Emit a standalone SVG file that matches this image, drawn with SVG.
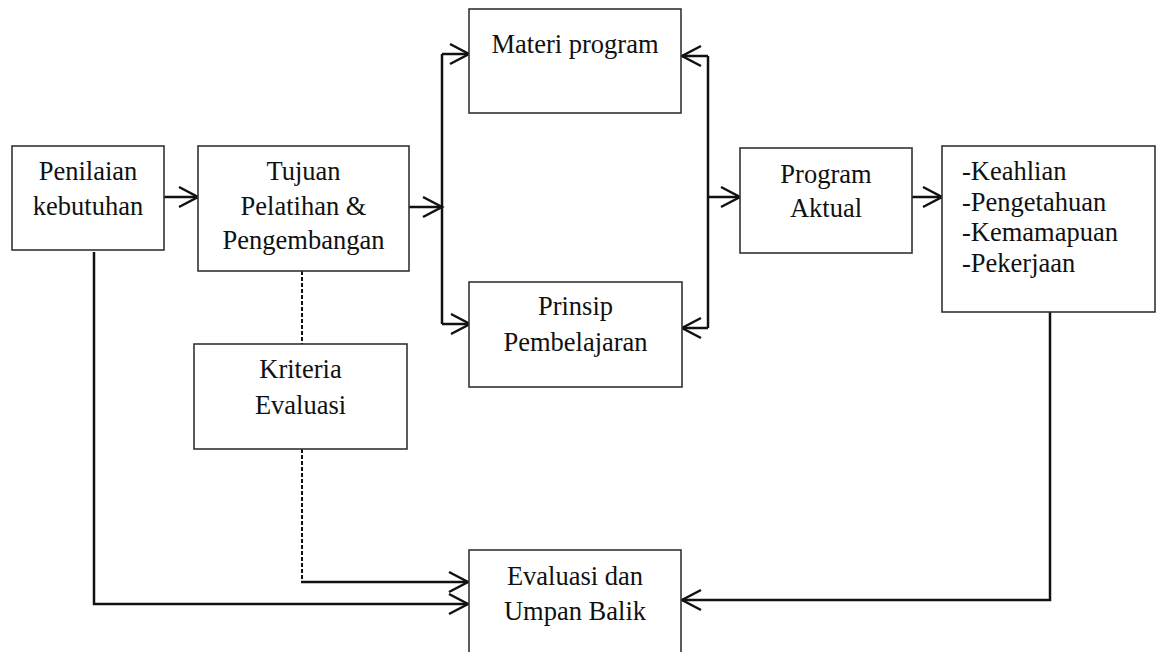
<svg xmlns="http://www.w3.org/2000/svg" width="1159" height="652" viewBox="0 0 1159 652">
<defs>
<style>
.box{fill:#fff;stroke:#333;stroke-width:1.6}
.t{font-family:"Liberation Serif","Times New Roman",serif;font-size:26.5px;fill:#111;text-anchor:middle}
.tl{font-family:"Liberation Serif","Times New Roman",serif;font-size:26.5px;fill:#111;text-anchor:start}
.c{fill:none;stroke:#111;stroke-width:2.5}
.d{fill:none;stroke:#111;stroke-width:2;stroke-dasharray:4 2}
</style>
<marker id="ah" viewBox="0 0 24 24" refX="21" refY="12" markerWidth="24" markerHeight="24" markerUnits="userSpaceOnUse" orient="auto">
<path d="M2,2 L21,12 L2,22" fill="none" stroke="#111" stroke-width="2.5"/>
</marker>
</defs>
<rect width="1159" height="652" fill="#fff"/>
<g id="connectors">
<path class="c" d="M164,197 H198" marker-end="url(#ah)"/>
<path class="c" d="M409,207 H442" marker-end="url(#ah)"/>
<path class="c" d="M442,54 V324"/>
<path class="c" d="M442,54 H469" marker-end="url(#ah)"/>
<path class="c" d="M442,324 H470" marker-end="url(#ah)"/>
<path class="c" d="M708,56 V328"/>
<path class="c" d="M708,56 H682" marker-end="url(#ah)"/>
<path class="c" d="M708,328 H682" marker-end="url(#ah)"/>
<path class="c" d="M708,197 H740" marker-end="url(#ah)"/>
<path class="c" d="M912,197 H942" marker-end="url(#ah)"/>
<path class="c" d="M94,252 V604 H468" marker-end="url(#ah)"/>
<path class="d" d="M302,271 V344"/>
<path class="d" d="M302,449 V582"/>
<path class="c" d="M301,582 H468" marker-end="url(#ah)"/>
<path class="c" d="M1050,312 V600 H682" marker-end="url(#ah)"/>
</g>
<g id="penilaian">
<rect class="box" x="12" y="146" width="152" height="104"/>
<text class="t" x="88" y="180">Penilaian</text>
<text class="t" x="88" y="215">kebutuhan</text>
</g>
<g id="tujuan">
<rect class="box" x="198" y="146" width="211" height="125"/>
<text class="t" x="303.5" y="180">Tujuan</text>
<text class="t" x="303.5" y="215">Pelatihan &amp;</text>
<text class="t" x="303.5" y="249">Pengembangan</text>
</g>
<g id="kriteria">
<rect class="box" x="194" y="344" width="213" height="105"/>
<text class="t" x="300.5" y="378">Kriteria</text>
<text class="t" x="300.5" y="414">Evaluasi</text>
</g>
<g id="materi">
<rect class="box" x="469" y="9" width="212" height="104"/>
<text class="t" x="575" y="53">Materi program</text>
</g>
<g id="prinsip">
<rect class="box" x="469" y="282" width="213" height="105"/>
<text class="t" x="575.5" y="315">Prinsip</text>
<text class="t" x="575.5" y="351">Pembelajaran</text>
</g>
<g id="program-aktual">
<rect class="box" x="740" y="148" width="172" height="105"/>
<text class="t" x="826" y="183">Program</text>
<text class="t" x="826" y="217">Aktual</text>
</g>
<g id="hasil">
<rect class="box" x="942" y="146" width="213" height="166"/>
<text class="tl" x="962" y="180">-Keahlian</text>
<text class="tl" x="962" y="211">-Pengetahuan</text>
<text class="tl" x="962" y="241">-Kemamapuan</text>
<text class="tl" x="962" y="272">-Pekerjaan</text>
</g>
<g id="evaluasi">
<rect class="box" x="469" y="550" width="212" height="115"/>
<text class="t" x="575" y="585">Evaluasi dan</text>
<text class="t" x="575" y="620">Umpan Balik</text>
</g>
</svg>
